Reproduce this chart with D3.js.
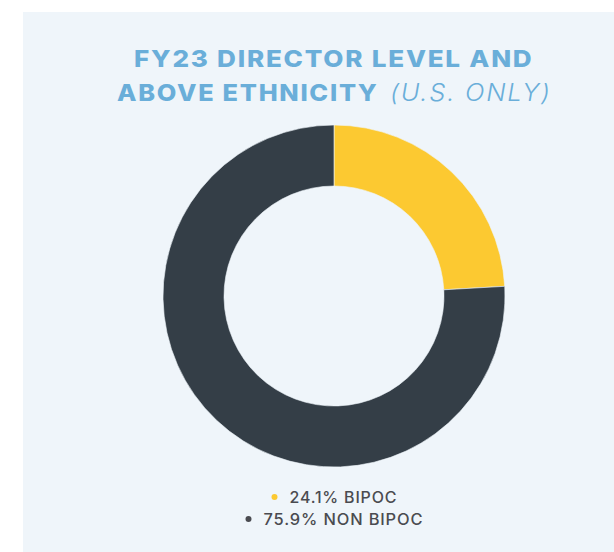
<!DOCTYPE html>
<html><head><meta charset="utf-8">
<script src="https://cdn.jsdelivr.net/npm/d3@7"></script>
<style>body{margin:0;background:#fff;}svg{display:block;}</style>
</head><body>
<script>
const categories = ["BIPOC", "NON BIPOC"];
const values = [24.1, 75.9];
const colors = ["#fcc931", "#343e47"];
const dotColors = ["#fcc931", "#4a4b50"];
const titleLine1 = "FY23 DIRECTOR LEVEL AND";
const titleLine2Bold = "ABOVE ETHNICITY";
const titleLine2Light = "(U.S. ONLY)";

const W = 614, H = 552;
const svg = d3.select("body").append("svg").attr("width", W).attr("height", H);
svg.append("rect").attr("x", 23).attr("y", 12).attr("width", W - 23).attr("height", H - 12).attr("fill", "#eff5fa");

const titleColor = "#6aaed9";
const font = "Inter, 'Open Sans', sans-serif";
// place text with left edge x0 and stretch horizontally to width target
function placeFit(sel, x0, y, target, ls) {
  sel.attr("x", 0).attr("y", 0).style("letter-spacing", ls + "px");
  const w = sel.node().getComputedTextLength() - ls;
  const sx = target / w;
  sel.attr("transform", `translate(${x0},${y}) scale(${sx},1)`);
}
const t1 = svg.append("text").attr("font-family", font).attr("font-weight", 800)
  .attr("font-size", 23.5).attr("fill", titleColor).text(titleLine1);
placeFit(t1, 134, 67, 398, 1.6);
const t2b = svg.append("text").attr("font-family", font).attr("font-weight", 800)
  .attr("font-size", 23.5).attr("fill", titleColor).text(titleLine2Bold);
placeFit(t2b, 117, 101, 260, 1.6);
const t2l = svg.append("text").attr("font-family", font).attr("font-weight", 300)
  .attr("font-style", "italic").attr("font-size", 23.5).attr("fill", titleColor).text(titleLine2Light);
placeFit(t2l, 390, 101, 160, 1.6);

// Donut
const cx = 334, cy = 296, rOuter = 171, rInner = 110;
const pie = d3.pie().sort(null).value(d => d);
const arc = d3.arc().innerRadius(rInner).outerRadius(rOuter);
svg.append("g").attr("transform", `translate(${cx},${cy})`)
  .selectAll("path").data(pie(values)).join("path")
  .attr("d", arc).attr("fill", (d, i) => colors[i])
  .attr("stroke", "#eff5fa").attr("stroke-width", 0.6);

// Legend
const legendY = [503, 525];
const legendW = [107, 159];
categories.forEach((c, i) => {
  const label = values[i].toFixed(1) + "% " + c;
  const txt = svg.append("text").attr("font-family", font)
    .attr("font-weight", 500).attr("font-size", 15.5).attr("fill", "#4a4b50").text(label);
  const total = 18 + legendW[i];
  const x0 = cx - total / 2;
  svg.append("circle").attr("cx", x0 + 3).attr("cy", legendY[i] - 6).attr("r", 3).attr("fill", dotColors[i]);
  placeFit(txt, x0 + 18, legendY[i], legendW[i], 0.8);
});
</script>
</body></html>
